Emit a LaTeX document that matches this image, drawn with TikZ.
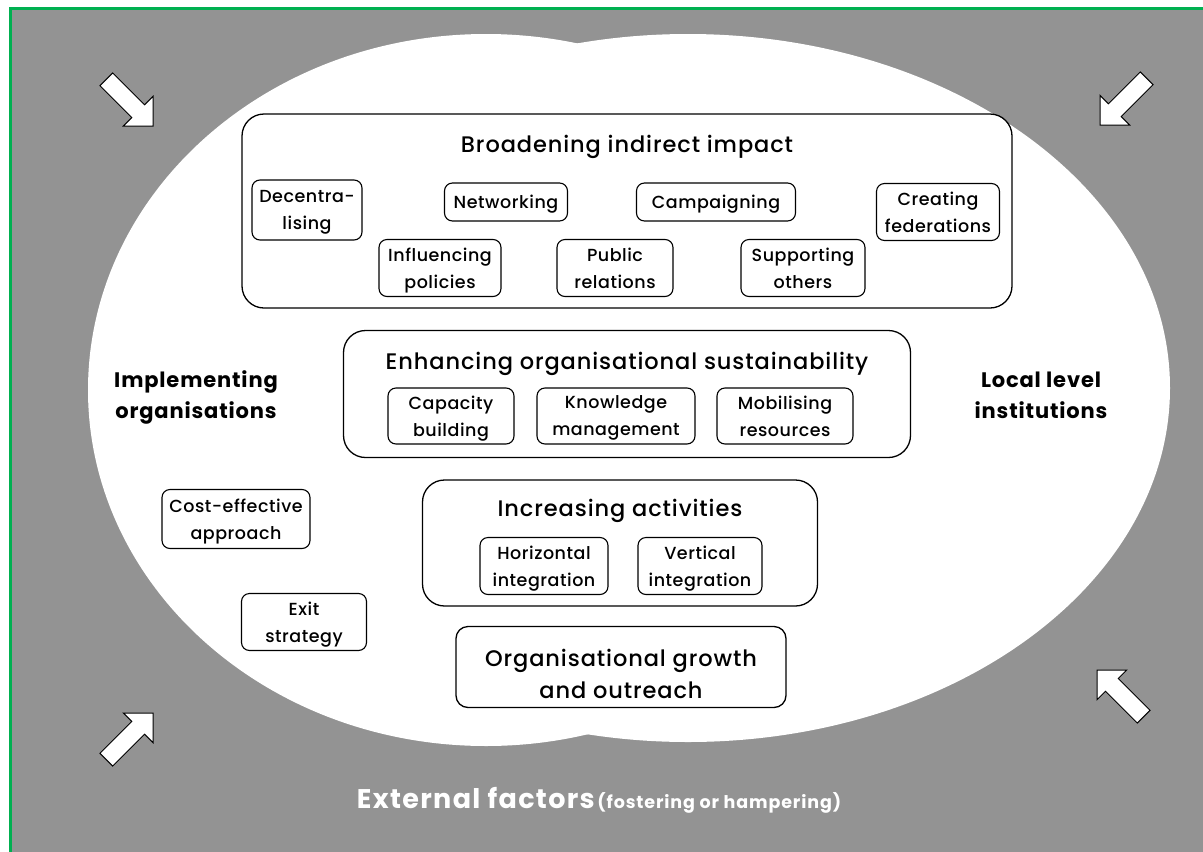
\documentclass[tikz,border=0pt]{standalone}
\usepackage{fontspec}
\setmainfont{Poppins}
\newfontfamily\pmedium{Poppins Medium}
\definecolor{bggray}{RGB}{147,147,147}
\definecolor{framegreen}{RGB}{0,176,80}
\tikzset{
  panel/.style={draw=black, line width=1.3pt, rounded corners=22pt, fill=white, inner sep=0pt},
  item/.style={draw=black, line width=1.1pt, rounded corners=8pt, fill=white, align=center,
    inner sep=0pt, text depth=-9pt,
    font=\pmedium\addfontfeature{LetterSpace=3}\fontsize{17.5}{27}\selectfont},
  paneltitle/.style={font=\pmedium\addfontfeature{LetterSpace=4}\fontsize{22.5}{26}\selectfont},
  grouplabel/.style={font=\bfseries\addfontfeature{LetterSpace=4}\fontsize{21}{31}\selectfont, align=center},
  blockarrow/.style={draw=black, line width=1pt, fill=white, line join=miter},
  pics/inarrow/.style={code={
    \draw[blockarrow] (0,0) -- (-21,21) -- (-21,9) -- (-66,9) -- (-66,-9)
      -- (-21,-9) -- (-21,-21) -- cycle;}},
}
\begin{document}
\begin{tikzpicture}[x=1pt,y=-1pt]
\useasboundingbox (0,0) rectangle (1203,852);
% backdrop and frame
\fill[white] (0,0) rectangle (1203,852);
\fill[bggray] (12,10) rectangle (1203,852);
\draw[framegreen, line width=3pt] (10.5,852) -- (10.5,8.5) -- (1203,8.5);
% the two overlapping fields
\fill[white] (486,390) ellipse [x radius=398, y radius=356];
\fill[white] (688,388) ellipse [x radius=482, y radius=354];

% external influences
\pic[rotate=-45]  at (153,126) {inarrow};
\pic[rotate=-135] at (1100,125) {inarrow};
\pic[rotate=45]   at (153,713) {inarrow};
\pic[rotate=135]  at (1097,670) {inarrow};

% broadening indirect impact
\node[panel, minimum width=770, minimum height=194] (broad) at (627,211) {};
\node[paneltitle] (broadT) at (627,147) {Broadening indirect impact};
\node[item, minimum width=110, minimum height=60] (decen) at (307,210) {Decentra-\\lising};
\node[item, minimum width=123, minimum height=38] (netw) at (506,202) {Networking};
\node[item, minimum width=159, minimum height=38] (camp) at (716,202) {Campaigning};
\node[item, minimum width=123, minimum height=57] (fed) at (938,212) {Creating\\federations};
\node[item, minimum width=122, minimum height=57] (infl) at (440,268) {Influencing\\policies};
\node[item, minimum width=116, minimum height=57] (pubrel) at (615,268) {Public\\relations};
\node[item, minimum width=124, minimum height=57] (supp) at (803,268) {Supporting\\others};

% organisational sustainability
\node[panel, minimum width=567, minimum height=127] (sust) at (627,394) {};
\node[paneltitle] (sustT) at (627,364) {Enhancing organisational sustainability};
\node[item, minimum width=126, minimum height=56] (cap) at (451,416) {Capacity\\building};
\node[item, minimum width=158, minimum height=56] (know) at (616,416) {Knowledge\\management};
\node[item, minimum width=136, minimum height=56] (mob) at (785,416) {Mobilising\\resources};

% increasing activities
\node[panel, minimum width=395, minimum height=126] (incr) at (620,543) {};
\node[paneltitle] (incrT) at (620,511) {Increasing activities};
\node[item, minimum width=128, minimum height=57] (horiz) at (544,566) {Horizontal\\integration};
\node[item, minimum width=124, minimum height=57] (vert) at (700,566) {Vertical\\integration};

% growth and outreach
\node[panel, rounded corners=12pt, minimum width=330, minimum height=81] (grow) at (621,667) {};
\node[align=center, font=\pmedium\addfontfeature{LetterSpace=4}\fontsize{22.5}{32}\selectfont]
      (growT) at (621,674) {Organisational growth\\and outreach};

% approaches of implementing organisations
\node[item, minimum width=148, minimum height=59] (cost) at (236,519) {Cost-effective\\approach};
\node[item, minimum width=125, minimum height=57] (exit) at (304,622) {Exit\\strategy};

% the two groups
\node[grouplabel] (impl) at (196,397) {Implementing\\organisations};
\node[grouplabel] (local) at (1041,395) {Local level\\institutions};

% surroundings
\node[text=white, font=\bfseries\addfontfeature{LetterSpace=5}] (ext) at (599,800)
  {{\fontsize{27}{30}\selectfont External factors} {\fontsize{17.5}{30}\selectfont (fostering or hampering)}};
\end{tikzpicture}
\end{document}
